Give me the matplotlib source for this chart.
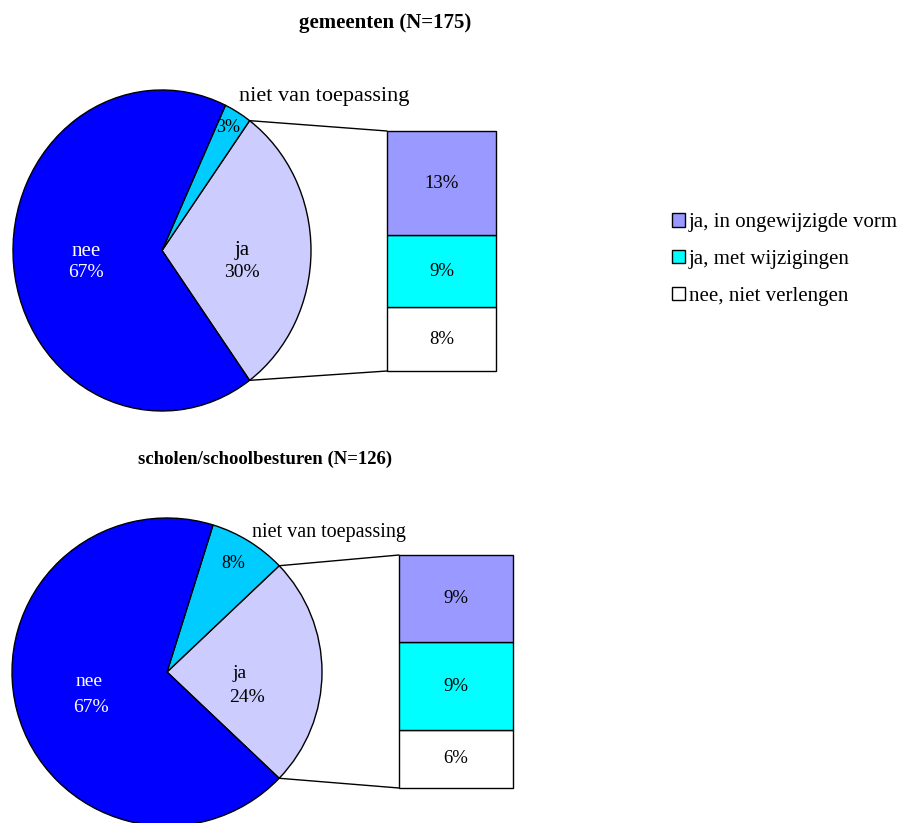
import numpy as np
import matplotlib
matplotlib.use('Agg')
import matplotlib.pyplot as plt
from matplotlib.patches import ConnectionPatch

plt.rcParams['font.family'] = ['Liberation Serif', 'DejaVu Serif']

# data
pie_labels = ['ja', 'niet van toepassing', 'nee']
gem_pie = [30, 3, 67]
sch_pie = [24, 8, 67]
bar_labels = ['nee, niet verlengen', 'ja, met wijzigingen', 'ja, in ongewijzigde vorm']
gem_bar = [8, 9, 13]
sch_bar = [6, 9, 9]

pie_colors = ['#CCCCFF', '#00CCFF', '#0000FF']
bar_colors = ['#FFFFFF', '#00FFFF', '#9999FF']

W, H = 905, 823
fig = plt.figure(figsize=(9.05, 8.23), dpi=100)


def box(x0, y0, x1, y1):
    return [x0 / W, 1 - y1 / H, (x1 - x0) / W, (y1 - y0) / H]


def px(x, y):
    return (x / W, 1 - y / H)


def pie_of_bar(pie_vals, bar_vals, pie_box, bar_box):
    ax = fig.add_axes(box(*pie_box))
    total = sum(pie_vals)
    start = -pie_vals[0] / total * 180
    wedges, _ = ax.pie(pie_vals, colors=pie_colors, startangle=start, counterclock=True,
                       wedgeprops=dict(edgecolor='black', linewidth=1.0))
    ax.set_aspect('auto')
    ax.set_xlim(-1, 1)
    ax.set_ylim(-1, 1)
    for w in wedges:
        w.set_clip_on(False)

    bx = fig.add_axes(box(*bar_box))
    bottom = 0
    for v, c, lab in zip(bar_vals, bar_colors, bar_labels):
        b = bx.bar(0, v, width=1, bottom=bottom, color=c, edgecolor='black',
                   linewidth=1.0, label=lab)
        b[0].set_clip_on(False)
        bx.text(0, bottom + v / 2, f'{v}%', ha='center', va='center', fontsize=13.5)
        bottom += v
    bx.set_xlim(-0.5, 0.5)
    bx.set_ylim(0, bottom)
    bx.axis('off')

    # connector lines from the "ja" wedge to the bar
    a1 = np.deg2rad(start + pie_vals[0] / total * 360)
    a0 = np.deg2rad(start)
    for ang, yb in [(a1, bottom), (a0, 0)]:
        con = ConnectionPatch(xyA=(np.cos(ang), np.sin(ang)), coordsA=ax.transData,
                              xyB=(-0.5, yb), coordsB=bx.transData,
                              color='black', linewidth=1.0)
        fig.add_artist(con)
    return bx


pie_of_bar(gem_pie, gem_bar, (13, 90, 311, 411), (387, 131, 496, 371))
bx = pie_of_bar(sch_pie, sch_bar, (12, 518, 322, 826), (399, 555, 513, 788))

# titles
fig.text(*px(385, 23), 'gemeenten (N=175)', ha='center', va='center',
         fontsize=15, fontweight='bold')
fig.text(*px(265, 459), 'scholen/schoolbesturen (N=126)', ha='center', va='center',
         fontsize=13.5, fontweight='bold')

# pie labels, top
fig.text(*px(86, 252), pie_labels[2], ha='center', va='center', fontsize=15, color='white')
fig.text(*px(86, 272), f'{gem_pie[2]}%', ha='center', va='center', fontsize=14, color='white')
fig.text(*px(242, 250), pie_labels[0], ha='center', va='center', fontsize=15)
fig.text(*px(242, 272), f'{gem_pie[0]}%', ha='center', va='center', fontsize=14)
fig.text(*px(228, 128), f'{gem_pie[1]}%', ha='center', va='center', fontsize=13)
fig.text(*px(324, 97), pie_labels[1], ha='center', va='center', fontsize=16)

# pie labels, bottom
fig.text(*px(89, 682), pie_labels[2], ha='center', va='center', fontsize=14, color='white')
fig.text(*px(91, 708), f'{sch_pie[2]}%', ha='center', va='center', fontsize=14, color='white')
fig.text(*px(240, 674), pie_labels[0], ha='center', va='center', fontsize=14)
fig.text(*px(247, 697), f'{sch_pie[0]}%', ha='center', va='center', fontsize=14)
fig.text(*px(233, 563), f'{sch_pie[1]}%', ha='center', va='center', fontsize=13)
fig.text(*px(329, 533), pie_labels[1], ha='center', va='center', fontsize=14.5)

# legend
h, l = bx.get_legend_handles_labels()
fig.legend(h[::-1], l[::-1], loc='upper left', bbox_to_anchor=px(664, 205),
           frameon=False, fontsize=15, handlelength=0.6, handleheight=0.6,
           handletextpad=0.2, labelspacing=0.85, borderaxespad=0)

fig.savefig('out.png', dpi=100)
